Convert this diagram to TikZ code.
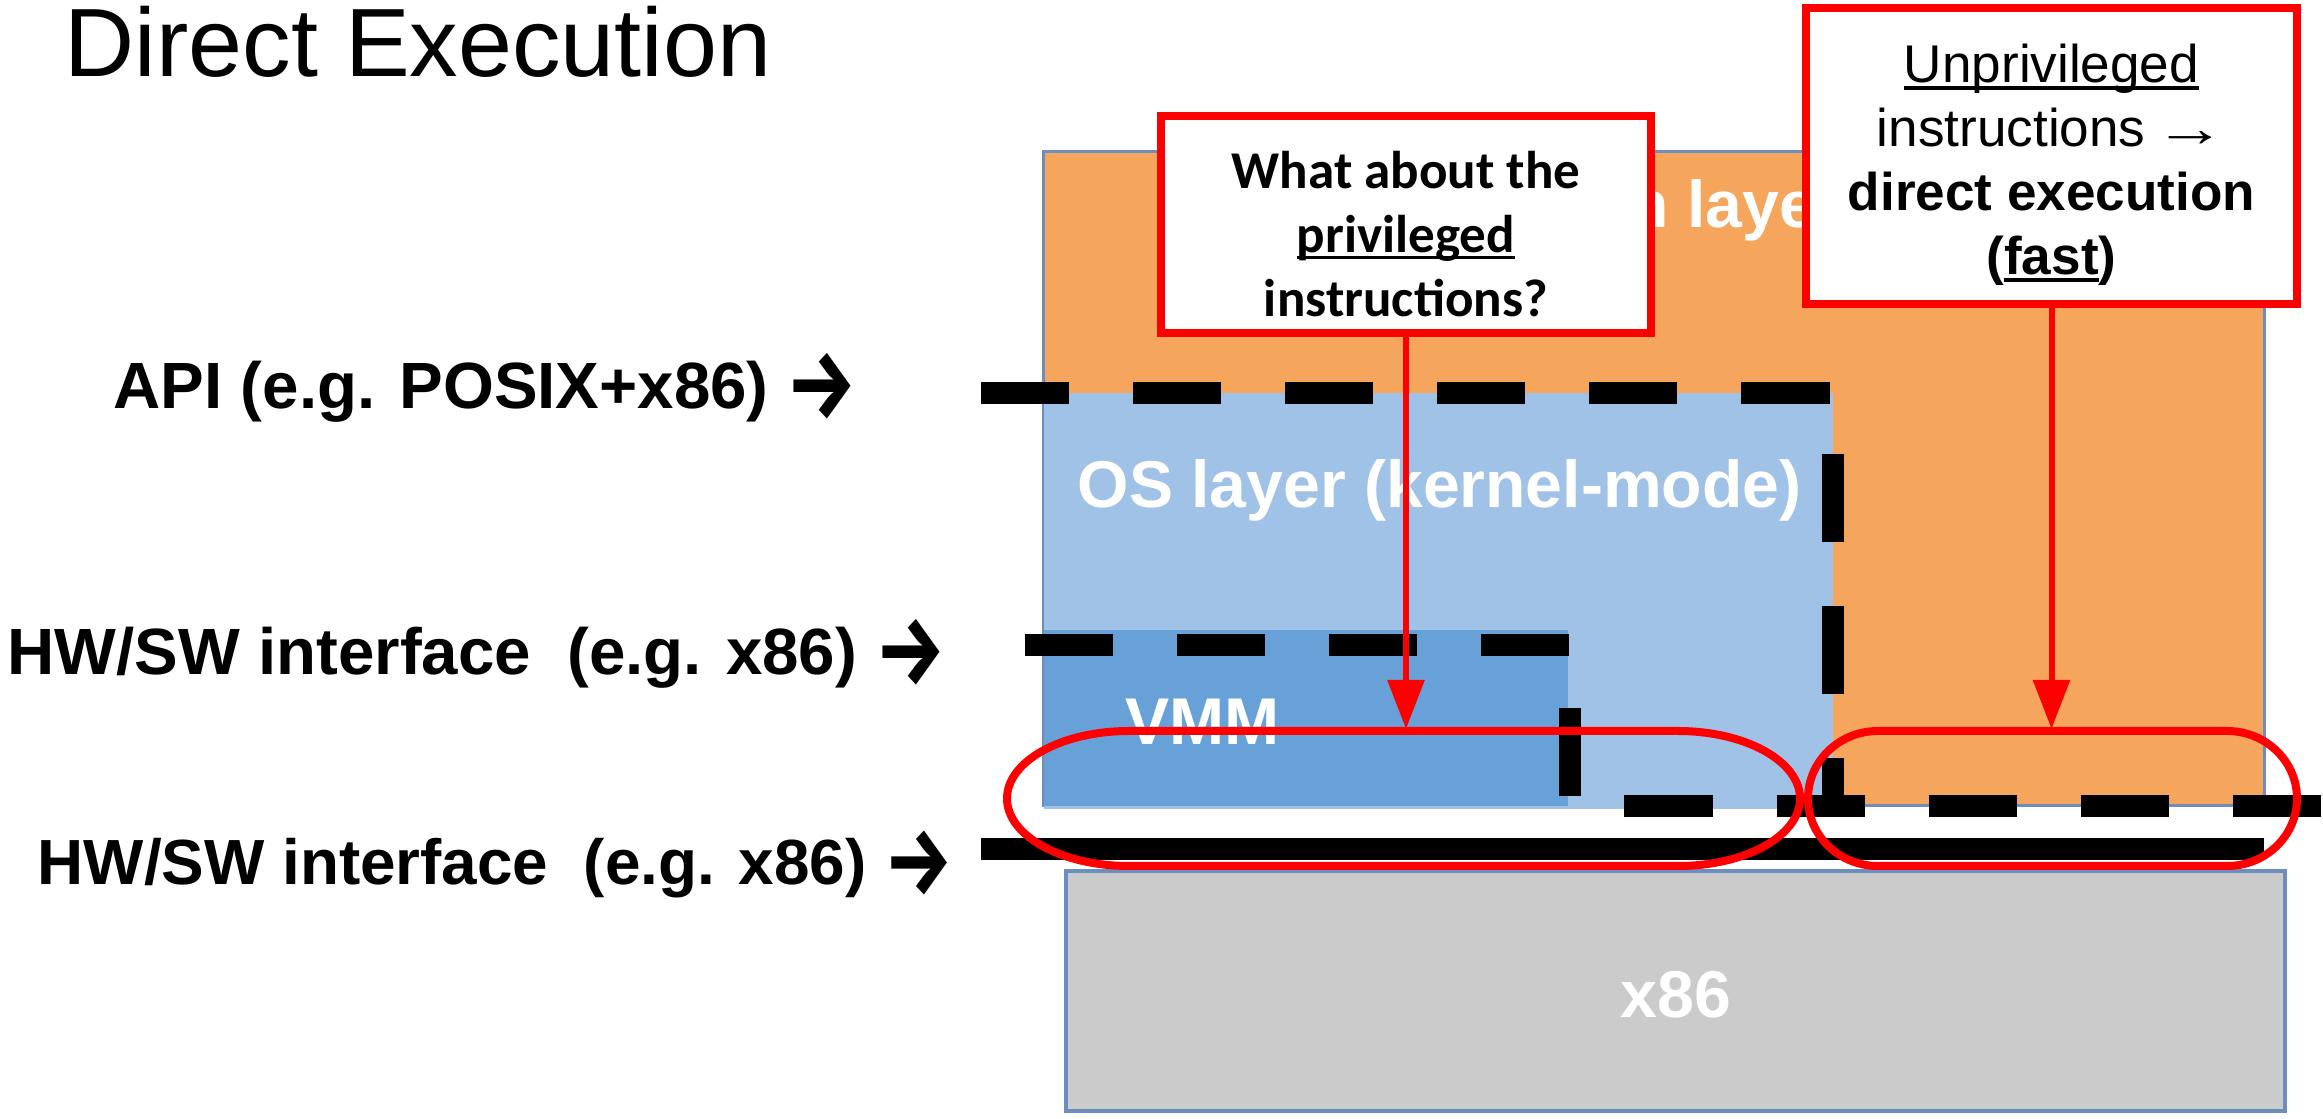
\documentclass[tikz,border=0pt]{standalone}
\usepackage{fontspec}
\setmainfont{Liberation Sans}
\newfontfamily\calloutfont{Carlito}
\newfontfamily\arrowfont{Fira Sans}
\usetikzlibrary{arrows.meta}

\definecolor{applayer}{RGB}{246,166,92}
\definecolor{oslayer}{RGB}{160,194,230}
\definecolor{vmmlayer}{RGB}{104,161,216}
\definecolor{hwlayer}{RGB}{203,203,203}
\definecolor{edgeblue}{RGB}{108,142,191}
\definecolor{alertred}{RGB}{255,0,0}

% underline drawn just below the baseline, crossing descenders
\newsavebox\ulbox
\newcommand{\ulword}[1]{\sbox\ulbox{#1}\rlap{\rule[-0.13em]{\wd\ulbox}{0.07em}}\usebox\ulbox}
% large arrow used after the interface labels
\newcommand{\bigarrow}{\raisebox{-0.145em}{\scalebox{1.2}[1.5]{\arrowfont\bfseries →}}}

\tikzset{
  layer/.style={inner sep=0pt, outer sep=0pt},
  layertext/.style={text=white, inner sep=0pt, font=\bfseries\fontsize{18.8pt}{22pt}\selectfont},
  sidelabel/.style={anchor=base west, inner sep=0pt, font=\bfseries\fontsize{18.6pt}{23pt}\selectfont},
  boundary/.style={line width=0.22cm, dash pattern=on 0.88cm off 0.64cm},
  callout/.style={draw=alertred, fill=white, line width=0.08cm, inner sep=0pt},
  ring/.style={draw=alertred, line width=0.08cm},
  pointer/.style={draw=alertred, line width=0.06cm, -{Triangle[length=0.49cm,width=0.36cm]}},
}

\begin{document}
\begin{tikzpicture}[x=0.01cm, y=-0.01cm]
  \useasboundingbox[fill=white] (0,0) rectangle (2323,1119);

  % title
  \node[anchor=base west, inner sep=0pt, font=\fontsize{27.6pt}{32pt}\selectfont] (title) at (64,77) {Direct Execution};

  % interface labels
  \node[sidelabel] (apilabel) at (113,409) {API (e.g. POSIX+x86) \bigarrow};
  \node[sidelabel] (hwlabelA) at (7,675) {HW/SW interface\ \ (e.g. x86) \bigarrow};
  \node[sidelabel, font=\bfseries\fontsize{18.15pt}{23pt}\selectfont] (hwlabelB) at (37,885) {HW/SW interface\ \ (e.g. x86) \bigarrow};

  % software / hardware layers
  \node[layer, fill=applayer, draw=edgeblue, line width=0.03cm, minimum width=12.2cm, minimum height=6.53cm] (app) at (1654,478.5) {};
  \node[layertext, anchor=base west] (apptext) at (1628,228) {n laye};
  \node[layer, fill=oslayer, minimum width=7.89cm, minimum height=4.16cm] (os) at (1438.5,601) {};
  \node[layertext, anchor=base west] (ostext) at (1077,508) {OS layer (kernel-mode)};
  \node[layer, fill=vmmlayer, minimum width=5.24cm, minimum height=1.76cm] (vmm) at (1306,718) {};
  \node[layertext, anchor=base west] (vmmtext) at (1125,745) {VMM};
  \node[layer, fill=hwlayer, draw=edgeblue, line width=0.04cm, minimum width=12.19cm, minimum height=2.4cm] (hw) at (1675.5,991) {};
  \node[layertext, anchor=base] (hwtext) at (1676,1018) {x86};

  % interface boundaries
  \coordinate (apiL) at (981,393);
  \coordinate (apiR) at (1833,393);
  \coordinate (osB) at (1833,806);
  \coordinate (vmmL) at (1025,645);
  \coordinate (vmmR) at (1570,645);
  \coordinate (vmmB) at (1570,806);
  \coordinate (hostR) at (2323,806);
  \coordinate (barL) at (981,849);
  \coordinate (barR) at (2264,849);
  \draw[boundary] (apiL) -- (apiR) -- (osB);
  \draw[boundary] (vmmL) -- (vmmR) -- (vmmB) -- (hostR);
  \draw[line width=0.22cm] (barL) -- (barR);

  % highlighted regions
  \draw[ring] (1129,731) -- (1678,731)
    .. controls (1745.4,731) and (1800,761.2) .. (1800,798.5)
    .. controls (1800,835.8) and (1745.4,866) .. (1678,866)
    -- (1129,866)
    .. controls (1061.6,866) and (1007,835.8) .. (1007,798.5)
    .. controls (1007,761.2) and (1061.6,731) .. cycle;
  \draw[ring] (1878,731) -- (2227,731)
    .. controls (2265.7,731) and (2297,761.2) .. (2297,798.5)
    .. controls (2297,835.8) and (2265.7,866) .. (2227,866)
    -- (1878,866)
    .. controls (1839.3,866) and (1808,835.8) .. (1808,798.5)
    .. controls (1808,761.2) and (1839.3,731) .. cycle;
  \coordinate (privtip) at (1406,729);
  \coordinate (unprivtip) at (2051.5,729);

  % callouts
  \node[callout, minimum width=4.9cm, minimum height=2.17cm] (privbox) at (1406,224.5) {};
  \node[align=center, inner sep=0pt, font=\calloutfont\bfseries\fontsize{15.1pt}{18.2pt}\selectfont] (privnote) at (1406,234) {What about the\\\ulword{privileged}\\instructions?};
  \node[callout, minimum width=4.91cm, minimum height=2.96cm] (unprivbox) at (2051.5,156) {};
  \node[align=center, inner sep=0pt, font=\fontsize{15.1pt}{18.2pt}\selectfont] (unprivnote) at (2051.5,165) {\ulword{Unprivileged}\\instructions\,\scalebox{1.35}[1]{→}\\\textbf{direct execution}\\\textbf{(\ulword{fast})}};

  \draw[pointer] (privbox.south) -- (privtip);
  \draw[pointer] (unprivbox.south) -- (unprivtip);
\end{tikzpicture}
\end{document}
